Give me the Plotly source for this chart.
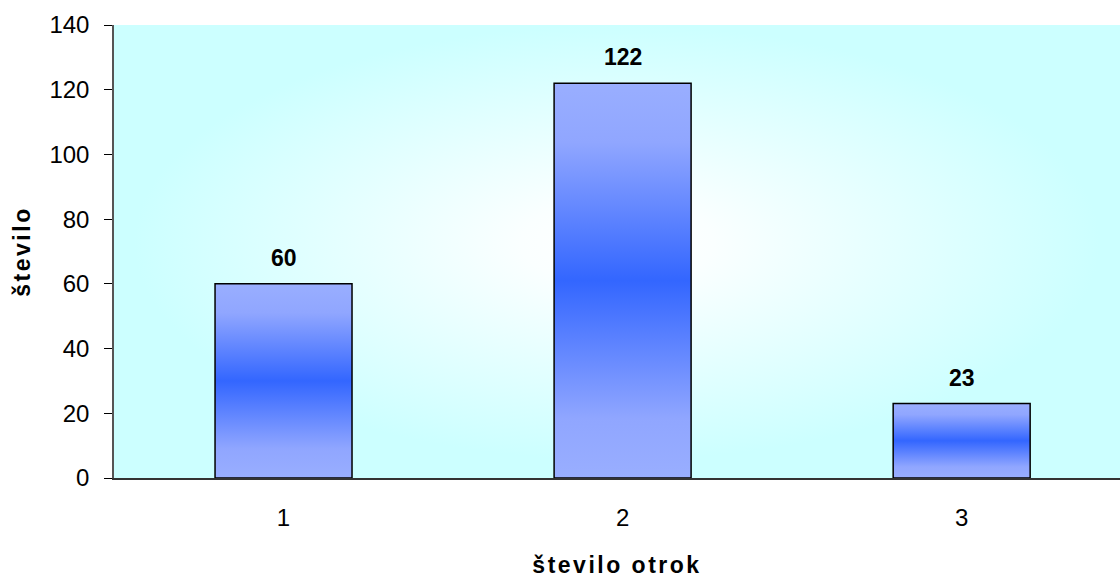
import base64
import plotly.graph_objects as go

# ---- data ----
categories = [1, 2, 3]
values = [60, 122, 23]
y_ticks = [0, 20, 40, 60, 80, 100, 120, 140]
x_title = "število otrok"
y_title = "število"

BAR_W = 0.404
FONT = "Arial, Liberation Sans, sans-serif"


def svg_uri(svg):
    return "data:image/svg+xml;base64," + base64.b64encode(svg.encode()).decode()


bg_svg = (
    '<svg xmlns="http://www.w3.org/2000/svg" width="100" height="100" viewBox="0 0 100 100" '
    'preserveAspectRatio="none"><defs><radialGradient id="g" cx="50%" cy="48%" r="48%">'
    '<stop offset="0" stop-color="#FFFFFF"/><stop offset="0.2" stop-color="#FAFFFF"/>'
    '<stop offset="1" stop-color="#CCFFFF"/></radialGradient></defs>'
    '<rect x="0" y="0" width="100" height="100" fill="url(#g)"/></svg>'
)

bar_svg = (
    '<svg xmlns="http://www.w3.org/2000/svg" width="100" height="100" viewBox="0 0 100 100" '
    'preserveAspectRatio="none"><defs><linearGradient id="b" x1="0" y1="0" x2="0" y2="1">'
    '<stop offset="0" stop-color="#99AEFF"/><stop offset="0.15" stop-color="#90A6FF"/>'
    '<stop offset="0.5" stop-color="#3366FF"/>'
    '<stop offset="0.85" stop-color="#90A6FF"/><stop offset="1" stop-color="#99AEFF"/>'
    '</linearGradient></defs><rect x="0" y="0" width="100" height="100" fill="url(#b)"/></svg>'
)

fig = go.Figure()
fig.add_trace(go.Bar(
    x=categories, y=values, width=BAR_W,
    marker=dict(color="rgba(0,0,0,0)", line=dict(color="#000000", width=1.5)),
    hoverinfo="x+y",
))

images = [dict(source=svg_uri(bg_svg), xref="paper", yref="paper", x=0, y=1,
               sizex=1, sizey=1, sizing="stretch", layer="below", xanchor="left", yanchor="top")]
for c, v in zip(categories, values):
    images.append(dict(source=svg_uri(bar_svg), xref="x", yref="y", x=c - BAR_W / 2, y=v,
                       sizex=BAR_W, sizey=v, sizing="stretch", layer="below",
                       xanchor="left", yanchor="top"))

annotations = [dict(x=c, y=v, xref="x", yref="y", text=str(v), showarrow=False,
                    yshift=26, yanchor="middle",
                    font=dict(family=FONT, size=23, color="#000000", weight="bold"))
               for c, v in zip(categories, values)]

fig.update_layout(
    width=1120, height=578,
    margin=dict(l=114, r=0, t=25, b=100),
    paper_bgcolor="#FFFFFF",
    plot_bgcolor="rgba(0,0,0,0)",
    showlegend=False,
    images=images,
    annotations=annotations,
    font=dict(family=FONT, size=24, color="#000000"),
    xaxis=dict(
        range=[0.5, 3.467], tickvals=categories, ticktext=[str(c) for c in categories],
        showline=True, linecolor="#333333", linewidth=1.5, ticks="", showgrid=False,
        zeroline=False, ticklabelstandoff=17, tickfont=dict(size=24),
        title=dict(text=x_title, standoff=31,
                   font=dict(family=FONT, size=23, color="#000000", weight="bold")),
    ),
    yaxis=dict(
        range=[0, 140], tickvals=y_ticks, showline=True, linecolor="#555555", linewidth=1.5,
        ticks="outside", ticklen=8, tickcolor="#000000", tickwidth=1, showgrid=False,
        zeroline=False, ticklabelstandoff=10, tickfont=dict(size=24),
        title=dict(text=y_title, standoff=12,
                   font=dict(family=FONT, size=23, color="#000000", weight="bold")),
    ),
)

post = """
document.querySelectorAll('.xtitle, .ytitle').forEach(function(e){
  e.style.letterSpacing = '2.5px';
});
"""

fig.write_html("out.html", post_script=post)
